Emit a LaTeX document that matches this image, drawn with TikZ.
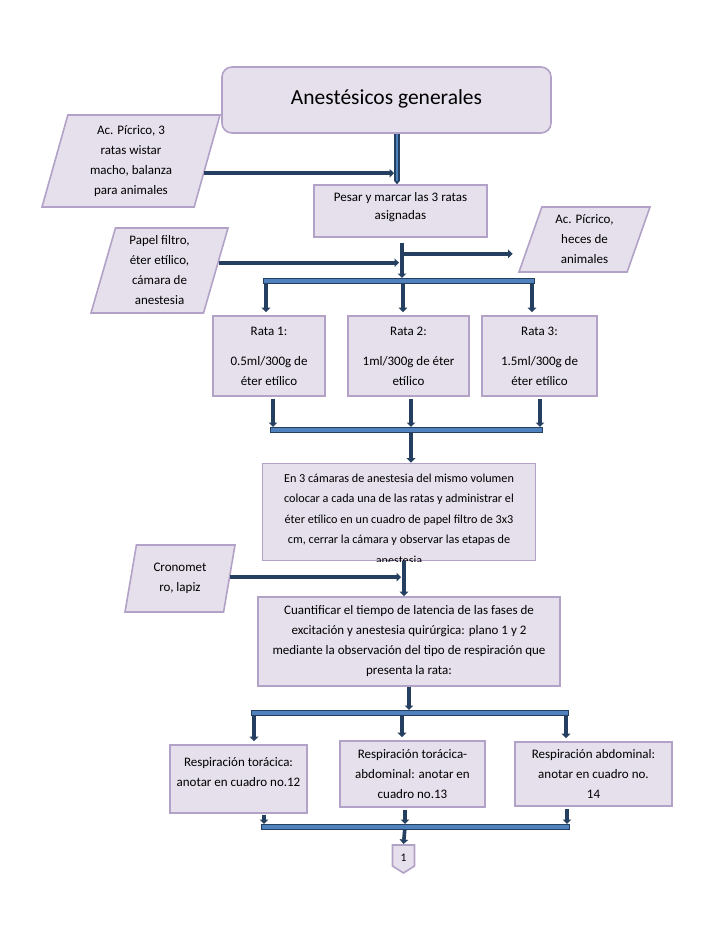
\documentclass[tikz,border=0pt]{standalone}
\usepackage{fontspec}
\setmainfont{Carlito}
\usetikzlibrary{shapes.geometric,arrows.meta,calc}
\definecolor{boxfill}{HTML}{E5E0EC}
\definecolor{boxdraw}{HTML}{B3A2C7}
\definecolor{navy}{HTML}{243F60}
\definecolor{barblue}{HTML}{4F81BD}
\begin{document}
\begin{tikzpicture}[x=1pt,y=-1pt,
  box/.style={draw=boxdraw, fill=boxfill, line width=1.6pt, inner sep=0pt, align=center,
    font=\fontsize{13}{20}\selectfont},
  para/.style={box, trapezium, trapezium stretches body, trapezium left angle=#1, trapezium right angle=180-#1},
  arr/.style={draw=navy, line width=3.6pt, -{Triangle[length=4.5pt,width=8.5pt]}},
  dblarr/.style={draw=navy, line width=1.4pt, double=barblue, double distance=2.6pt, -{Triangle[length=3pt,width=5pt]}},
  bar/.style={draw=navy, line width=1.5pt, double=barblue, double distance=3.4pt, line cap=rect}]
\useasboundingbox[fill=white] (0,0) rectangle (728,943);

% ---- nodes ----
\node[box, rounded corners=10pt, minimum width=329, minimum height=66, font=\fontsize{21.5}{24}\selectfont] (title) at (386.5,100) {\raisebox{5pt}{Anestésicos generales}};
\node[para=70, minimum width=178, minimum height=92] (p1) at (131,161) {Ac. Pícrico, 3\\ratas wistar\\macho, balanza\\para animales};
\node[box, minimum width=173, minimum height=52, font=\fontsize{13}{18}\selectfont] (pesar) at (400.5,211) {Pesar y marcar las 3 ratas\\asignadas\\[-8pt]~};
\node[para=65, minimum width=131, minimum height=65] (p3) at (584.5,239.5) {Ac. Pícrico,\\heces de\\animales};
\node[para=70.5, minimum width=137, minimum height=85] (p2) at (159.5,270.5) {Papel filtro,\\éter etílico,\\cámara de\\anestesia};
\node[box, minimum width=112, minimum height=80] (rata1) at (269,356) {Rata 1:\\[10pt]0.5ml/300g de\\éter etílico};
\node[box, minimum width=121, minimum height=80] (rata2) at (408.5,356) {Rata 2:\\[10pt]1ml/300g de éter\\etílico};
\node[box, minimum width=115, minimum height=80] (rata3) at (539.5,356) {Rata 3:\\[10pt]1.5ml/300g de\\éter etílico};
\node[box, minimum width=273, minimum height=97] (camaras) at (399,512) {};
\begin{scope}
  \clip (camaras.south west) rectangle (camaras.north east);
  \node[align=center, inner sep=0pt, font=\fontsize{12.2}{20.5}\selectfont] (camtext) at (399,519)
    {En 3 cámaras de anestesia del mismo volumen\\colocar a cada una de las ratas y administrar el\\éter etílico en un cuadro de papel filtro de 3x3\\cm, cerrar la cámara y observar las etapas de\\anestesia};
\end{scope}
\node[para=69.5, minimum width=110, minimum height=67] (p4) at (180,578.5) {Cronomet\\ro, lapiz};
\node[box, minimum width=302, minimum height=89] (cuant) at (409,641.5) {Cuantificar el tiempo de latencia de las fases de\\excitación y anestesia quirúrgica: plano 1 y 2\\mediante la observación del tipo de respiración que\\presenta la rata:};
\node[box, minimum width=137, minimum height=68] (r1) at (238.5,779) {Respiración torácica:\\anotar en cuadro no.12\\[-6pt]~};
\node[box, minimum width=145, minimum height=66] (r2) at (412.5,774) {Respiración torácica-\\abdominal: anotar en\\cuadro no.13};
\node[box, minimum width=157, minimum height=64] (r3) at (593.5,774) {Respiración abdominal:\\anotar en cuadro no.\\14};
\node[inner sep=0pt, font=\fontsize{11.5}{13}\selectfont] (off) at (403.5,858) {1};
\draw[box] ($(off)+(-11,-13)$) -- ($(off)+(11,-13)$) -- ($(off)+(11,8)$) -- ($(off)+(0,15)$) -- ($(off)+(-11,8)$) -- cycle;
\node[inner sep=0pt, font=\fontsize{11.5}{13}\selectfont] at (off) {1};

% ---- junction coordinates ----
\coordinate (c1) at (397,0);
\coordinate (c2) at (402,0);
\coordinate (b1L) at (266,281);
\coordinate (b1C) at (403,281);
\coordinate (b1R) at (532,281);
\coordinate (b2L) at (273,430);
\coordinate (b2C) at (411,430);
\coordinate (b2R) at (540,430);
\coordinate (c3) at (404,0);
\coordinate (b3L) at (254,713);
\coordinate (b3C) at (402,713);
\coordinate (b3R) at (566,713);
\coordinate (c4) at (409,0);
\coordinate (b4L) at (264,827);
\coordinate (b4C) at (405,827);
\coordinate (b4R) at (567,827);

% ---- connectors ----
\draw[dblarr] (title.south -| c1) -- (pesar.north -| c1);
\draw[arr] ($(p1.top right corner)!0.63!(p1.bottom right corner)$) coordinate (a1) -- ($(a1 -| c1)+(-3,0)$);

\draw[arr] ($(pesar.south -| c2)+(0,5)$) -- ($(b1C -| c2)+(0,-3)$);
\draw[arr] ($(pesar.south -| c2)+(0,16)$) coordinate (a3) -- ($(a3 -| p3.west)+(-17,0)$);
\draw[arr] ($(p2.top right corner)!0.41!(p2.bottom right corner)$) coordinate (a2) -- ($(a2 -| c2)+(-3,0)$);

\draw[arr] (b1L) -- ($(b1L |- rata1.north)+(0,-3)$);
\draw[arr] (b1C) -- ($(b1C |- rata2.north)+(0,-3)$);
\draw[arr] (b1R) -- ($(b1R |- rata3.north)+(0,-3)$);

\draw[arr] ($(rata1.south -| b2L)+(0,2)$) -- ($(b2L)+(0,-3)$);
\draw[arr] ($(rata2.south -| b2C)+(0,2)$) -- ($(b2C)+(0,-3)$);
\draw[arr] ($(rata3.south -| b2R)+(0,2)$) -- ($(b2R)+(0,-3)$);
\draw[arr] (b2C) -- (camaras.north -| b2C);

\draw[arr] (camaras.south -| c3) -- (cuant.north -| c3);
\draw[arr] ($(p4.top right corner)!0.48!(p4.bottom right corner)$) coordinate (a4) -- ($(a4 -| c3)+(-3,0)$);

\draw[arr] (cuant.south -| c4) -- ($(b3C -| c4)+(0,-3)$);
\draw[arr] (b3L) -- ($(b3L |- r1.north)+(0,-3)$);
\draw[arr] (b3C) -- ($(b3C |- r2.north)+(0,-3)$);
\draw[arr] (b3R) -- ($(b3R |- r3.north)+(0,-3)$);

\draw[arr] ($(r1.south -| b4L)+(0,1)$) -- ($(b4L)+(0,-3)$);
\draw[arr] ($(r2.south -| b4C)+(0,2)$) -- ($(b4C)+(0,-3)$);
\draw[arr] ($(r3.south -| b4R)+(0,2)$) -- ($(b4R)+(0,-3)$);
\draw[arr] (b4C) -- ($(off)+(0,-14)$);

% ---- bars ----
\draw[bar] (b1L) -- (b1R);
\draw[bar] (b2L) -- (b2R);
\draw[bar] (b3L) -- (b3R);
\draw[bar] (b4L) -- (b4R);
\end{tikzpicture}
\end{document}
